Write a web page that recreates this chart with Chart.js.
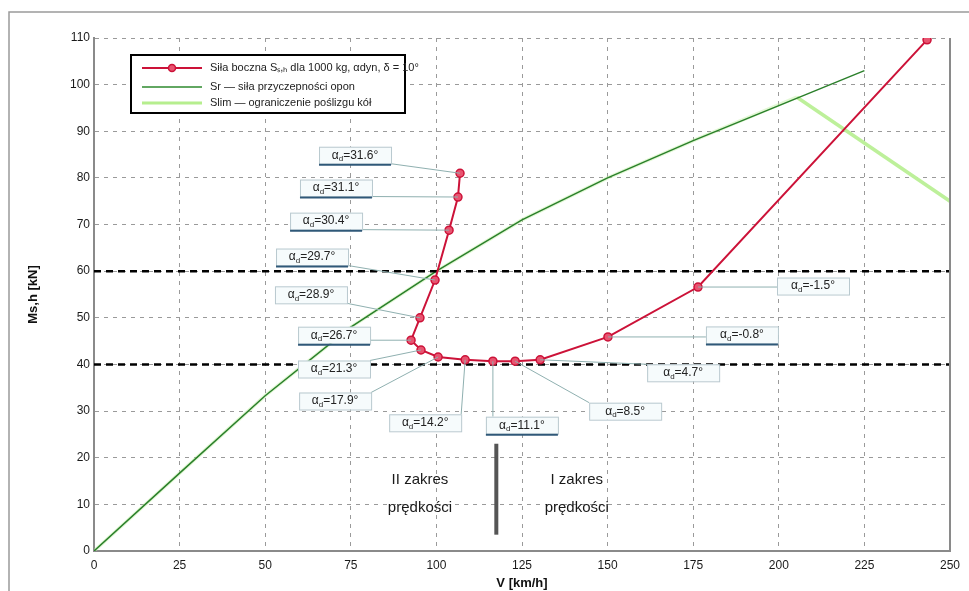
<!DOCTYPE html>
<html>
<head>
<meta charset="utf-8">
<script src="https://cdn.jsdelivr.net/npm/chart.js@4.4.1/dist/chart.umd.min.js"></script>
<style>
  html, body { margin: 0; padding: 0; background: #fff; }
  #wrap { width: 969px; height: 591px; position: relative; }
</style>
</head>
<body>
<div id="wrap"><canvas id="chart" width="969" height="591"></canvas></div>
<script>
// dane
const predkosc = [106.9, 106.3, 103.7, 99.6, 95.2, 92.6, 95.5, 100.5, 108.4, 116.5, 123.0, 130.3, 150.1, 176.4, 243.3];
const silaBoczna = [81.0, 75.9, 68.8, 58.1, 50.0, 45.2, 43.1, 41.6, 41.0, 40.7, 40.7, 41.0, 45.9, 56.6, 109.6];
const katyAlfa = ['31.6', '31.1', '30.4', '29.7', '28.9', '26.7', '21.3', '17.9', '14.2', '11.1', '8.5', '4.7', '-0.8', '-1.5'];

const predkoscSr = [0, 25, 50, 75, 100, 125, 150, 175, 200, 225];
const silaSr = [0, 16.7, 33.3, 48.0, 60.0, 71.0, 80.0, 88.0, 95.5, 103.0];

const predkoscLim = [0, 25, 50, 75, 100, 125, 150, 175, 205.3, 250];
const silaLim = [0, 16.7, 33.3, 48.0, 60.0, 71.0, 80.0, 88.0, 97.3, 75.0];

const poziomy = [40, 60];
const granicaV = 117.5;
const granicaS = [3.5, 23.0];

const xTicks = [0, 25, 50, 75, 100, 125, 150, 175, 200, 225, 250];
const yTicks = [0, 10, 20, 30, 40, 50, 60, 70, 80, 90, 100, 110];

const legendTexts = [
  'Siła boczna S\u209b,\u2095 dla 1000 kg, \u03b1dyn, \u03b4 = 10\u00b0',
  'Sr \u2014 siła przyczepności opon',
  'Slim \u2014 ograniczenie poślizgu kół'
];

const toXY = (xs, ys) => xs.map((x, i) => ({ x: x, y: ys[i] }));

// polozenie opisow wzgledem punktu (px)
const labelOffsets = [
  [-105, -18], [-122, -9], [-123, -9], [-123, -23], [-109, -23], [-77, -5],
  [-87, 19], [-103, 44], [-40, 63], [29, 64], [110, 50], [143, 13], [134, -2], [115, -1]
];
const underlined = [0, 1, 2, 3, 5, 9, 12];

const FONT = '"Liberation Sans", Arial, sans-serif';

const extras = {
  id: 'extras',
  beforeDraw(chart) {
    const c = chart.ctx;
    c.save();
    c.fillStyle = '#fff';
    c.fillRect(0, 0, chart.width, chart.height);
    c.strokeStyle = '#9a9a9a';
    c.lineWidth = 1.5;
    c.strokeRect(9, 12, chart.width + 10, chart.height + 10);
    c.restore();
  },
  afterDatasetsDraw(chart) {
    const c = chart.ctx;
    const xs = chart.scales.x, ys = chart.scales.y;
    const a = chart.chartArea;

    // prawa krawedz
    c.save();
    c.strokeStyle = '#8a8a8a';
    c.lineWidth = 2;
    c.beginPath();
    c.moveTo(a.right, a.top);
    c.lineTo(a.right, a.bottom);
    c.stroke();
    c.restore();

    // opisy katow
    katyAlfa.forEach((txt, i) => {
      const px = xs.getPixelForValue(predkosc[i]);
      const py = ys.getPixelForValue(silaBoczna[i]);
      const cx = px + labelOffsets[i][0];
      const cy = py + labelOffsets[i][1];
      const w = 72, h = 17;
      const bx = cx - w / 2, by = cy - h / 2;
      // linia odniesienia
      let ex = Math.max(bx, Math.min(px, bx + w));
      let ey = Math.max(by, Math.min(py, by + h));
      c.save();
      c.strokeStyle = '#8fb0b0';
      c.lineWidth = 1;
      c.beginPath();
      c.moveTo(ex, ey);
      c.lineTo(px, py);
      c.stroke();
      c.fillStyle = '#f6fbfc';
      c.fillRect(bx, by, w, h);
      c.strokeStyle = '#b9c9cf';
      c.strokeRect(bx + 0.5, by + 0.5, w, h);
      if (underlined.includes(i)) {
        c.strokeStyle = '#2f5878';
        c.lineWidth = 2;
        c.beginPath();
        c.moveTo(bx, by + h + 1);
        c.lineTo(bx + w, by + h + 1);
        c.stroke();
      }
      c.fillStyle = '#222';
      c.textBaseline = 'middle';
      c.textAlign = 'left';
      const main = '\u03b1';
      const rest = '=' + txt + '\u00b0';
      c.font = '12px ' + FONT;
      const w1 = c.measureText(main).width;
      c.font = '8px ' + FONT;
      const w2 = c.measureText('d').width;
      c.font = '12px ' + FONT;
      const w3 = c.measureText(rest).width;
      const tx = cx - (w1 + w2 + w3) / 2;
      c.fillText(main, tx, cy);
      c.font = '8px ' + FONT;
      c.fillText('d', tx + w1, cy + 4);
      c.font = '12px ' + FONT;
      c.fillText(rest, tx + w1 + w2, cy);
      c.restore();
    });

    // zakresy predkosci
    c.save();
    c.fillStyle = '#1a1a1a';
    c.font = '15px ' + FONT;
    c.textAlign = 'center';
    c.textBaseline = 'middle';
    const tyA = ys.getPixelForValue(15.2), tyB = ys.getPixelForValue(9.2);
    const lx = xs.getPixelForValue(95.2), rx = xs.getPixelForValue(141);
    c.fillText('II zakres', lx, tyA);
    c.fillText('prędkości', lx, tyB);
    c.fillText('I zakres', rx, tyA);
    c.fillText('prędkości', rx, tyB);
    c.restore();

    // legenda
    c.save();
    const L = 131, T = 55, R = 405, B = 113;
    c.fillStyle = '#fff';
    c.fillRect(L, T, R - L, B - T);
    c.strokeStyle = '#000';
    c.lineWidth = 2;
    c.strokeRect(L, T, R - L, B - T);
    const rows = [68, 87, 103];
    const styles = [
      { color: '#cc1238', width: 2 },
      { color: '#2e8a2e', width: 1.5 },
      { color: '#b6ee8e', width: 3 }
    ];
    rows.forEach((y, i) => {
      c.strokeStyle = styles[i].color;
      c.lineWidth = styles[i].width;
      c.beginPath();
      c.moveTo(142, y);
      c.lineTo(202, y);
      c.stroke();
      if (i === 0) {
        c.fillStyle = '#e85470';
        c.strokeStyle = '#cc1238';
        c.lineWidth = 1.5;
        c.beginPath();
        c.arc(172, y, 3.5, 0, Math.PI * 2);
        c.fill();
        c.stroke();
      }
      c.fillStyle = '#222';
      c.font = '11px ' + FONT;
      c.textAlign = 'left';
      c.textBaseline = 'middle';
      c.fillText(legendTexts[i], 210, y);
    });
    c.restore();

    // tytuly osi
    c.save();
    c.fillStyle = '#111';
    c.font = 'bold 13px ' + FONT;
    c.textAlign = 'center';
    c.textBaseline = 'middle';
    c.fillText('V [km/h]', (a.left + a.right) / 2, 583);
    c.translate(33, (a.top + a.bottom) / 2);
    c.rotate(-Math.PI / 2);
    c.fillText('Ms,h [kN]', 0, 0);
    c.restore();
  }
};

const datasets = [
  {
    label: 'Slim',
    data: toXY(predkoscLim, silaLim),
    borderColor: '#bdf09a',
    borderWidth: 3.5,
    segment: {
      borderColor: ctx => ctx.p0.parsed.x < 200 ? 'rgba(190,240,160,0.45)' : '#bdf09a'
    },
    pointRadius: 0,
    order: 5
  },
  {
    label: 'Sr',
    data: toXY(predkoscSr, silaSr),
    borderColor: '#2a7f2a',
    borderWidth: 1.5,
    pointRadius: 0,
    order: 4
  }
];
poziomy.forEach(p => {
  datasets.push({
    label: 'poziom ' + p,
    data: [{ x: xTicks[0], y: p }, { x: xTicks[xTicks.length - 1], y: p }],
    borderColor: '#000',
    borderWidth: 2.5,
    borderDash: [7, 5],
    pointRadius: 0,
    order: 3
  });
});
datasets.push({
  label: 'granica',
  data: [{ x: granicaV, y: granicaS[0] }, { x: granicaV, y: granicaS[1] }],
  borderColor: '#555',
  borderWidth: 4,
  pointRadius: 0,
  order: 2
});
datasets.push({
  label: 'Ss,h',
  data: toXY(predkosc, silaBoczna),
  borderColor: '#cc1238',
  borderWidth: 2,
  pointRadius: 4,
  pointBackgroundColor: '#e85470',
  pointBorderColor: '#cc1238',
  pointBorderWidth: 1.5,
  order: 1
});

new Chart(document.getElementById('chart'), {
  type: 'scatter',
  data: { datasets: datasets },
  options: {
    responsive: false,
    animation: false,
    showLine: true,
    layout: { padding: { left: 0, right: 19, top: 38, bottom: 0 } },
    plugins: { legend: { display: false }, tooltip: { enabled: false } },
    scales: {
      x: {
        type: 'linear',
        min: 0, max: 250,
        afterBuildTicks: s => { s.ticks = xTicks.map(v => ({ value: v })); },
        afterFit: s => { s.height = 40; },
        ticks: { color: '#1a1a1a', font: { family: FONT, size: 12 }, padding: 7, maxRotation: 0 },
        grid: { color: '#9a9a9a', lineWidth: 1, drawTicks: false },
        border: { display: true, color: '#8a8a8a', width: 2, dash: [4, 5] }
      },
      y: {
        type: 'linear',
        min: 0, max: 110,
        afterBuildTicks: s => { s.ticks = yTicks.map(v => ({ value: v })); },
        afterFit: s => { s.width = 94; },
        ticks: { color: '#1a1a1a', font: { family: FONT, size: 12 }, padding: 4 },
        grid: { color: '#9a9a9a', lineWidth: 1, drawTicks: false },
        border: { display: true, color: '#8a8a8a', width: 2, dash: [4, 5] }
      }
    }
  },
  plugins: [extras]
});
</script>
</body>
</html>
